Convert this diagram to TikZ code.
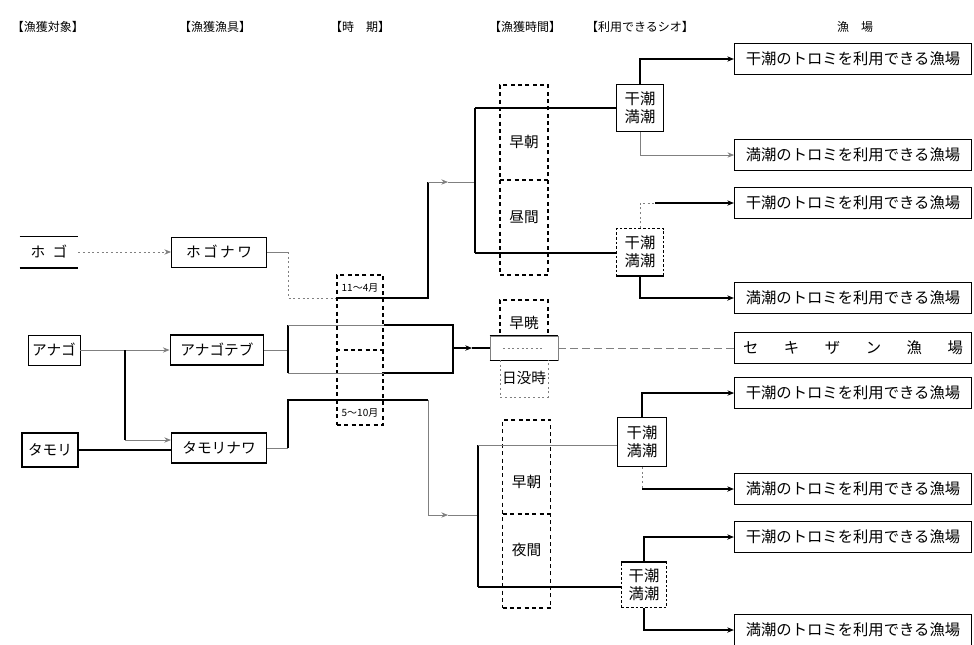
\documentclass[tikz,border=0pt]{standalone}
\usepackage{fontspec}
\newfontfamily\jp{Noto Sans CJK JP}
\usetikzlibrary{arrows.meta,calc}
\tikzset{
  base/.style={inner sep=0pt, font=\jp\fontsize{11}{13}\selectfont},
  lbox/.style={base, draw, line width=0.9pt},
  hdr/.style={base, font=\jp\fontsize{9}{11}\selectfont},
  small/.style={base, font=\jp\fontsize{7.5}{9}\selectfont},
  tide/.style={base, draw, line width=0.9pt, align=center, font=\jp\fontsize{11.5}{13.5}\selectfont},
  res/.style={base, draw, line width=0.9pt, minimum width=177.75pt, minimum height=23.25pt, font=\jp\fontsize{11.5}{13}\selectfont},
  strong/.style={line width=1.1pt},
  faint/.style={line width=0.6pt, gray},
  dots/.style={line width=0.6pt, gray, dash pattern=on 1.5pt off 2pt},
  dbox/.style={line width=1pt, dash pattern=on 3pt off 2.5pt},
  arr/.style={-{Stealth[length=5pt,width=4pt]}},
}
\begin{document}
\begin{tikzpicture}[x=0.75pt,y=-0.75pt]
\useasboundingbox (0,0) rectangle (974,644);
% headers
\node[hdr] (h1) at (48,27) {【漁獲対象】};
\node[hdr] (h2) at (215,27) {【漁獲漁具】};
\node[hdr] (h3) at (360,27) {【時\quad 期】};
\node[hdr] (h4) at (525,27) {【漁獲時間】};
\node[hdr] (h5) at (640,27) {【利用できるシオ】};
\node[hdr] (h6) at (855,27) {漁\quad 場};
% left column
\node[base, minimum width=43.5pt, minimum height=23.25pt] (hogo) at (49,252) {ホ\enspace ゴ};
\draw[line width=1pt] (hogo.north west) -- (hogo.north east);
\draw[line width=1.2pt] (hogo.south west) -- (hogo.south east);
\node[lbox, line width=0.6pt, minimum width=39pt, minimum height=22.5pt] (anago) at (54,350) {アナゴ};
\node[lbox, line width=1.2pt, minimum width=42pt, minimum height=25.5pt] (tamori) at (50,450) {タモリ};
% second column
\node[lbox, line width=0.7pt, minimum width=71.25pt, minimum height=22.5pt] (hogonawa) at (219,252) {ホ\,ゴ\,ナ\,ワ};
\node[lbox, line width=1.2pt, minimum width=70pt, minimum height=22.5pt] (anagoteb) at (217,350) {アナゴテブ};
\node[lbox, line width=0.8pt, minimum width=71.25pt, minimum height=22.5pt] (tamorinawa) at (219,448) {タモリナワ};
% season box
\node[base, draw, dbox, minimum width=34.5pt, minimum height=112.5pt] (season) at (360,350) {};
\draw[dbox] (season.west) -- (season.east);
\node[small] (s1) at (360,288) {11～4月};
\node[small] (s2) at (360,413) {5～10月};
% time-of-day columns
\node[base, draw, dbox, minimum width=36pt, minimum height=142.5pt] (tu) at (524,180) {};
\draw[dbox] (500,180) -- (548,180);
\node[base] (tu1) at (524,142) {早朝};
\node[base] (tu2) at (524,217) {昼間};
\node[base, draw, dbox, minimum width=36pt, minimum height=141pt] (tl) at (526.5,514) {};
\draw[dbox] (503,514) -- (550,514);
\node[base] (tl1) at (526.5,482) {早朝};
\node[base] (tl2) at (526.5,550) {夜間};
% middle
\node[base, draw, dbox, minimum width=36pt, minimum height=27pt] (tm1) at (524,318) {};
\node[base] (tm1t) at (524,323) {早暁};
\node[base, draw, faint, minimum width=51pt, minimum height=18pt] (mid) at (524,348) {};
\draw[strong] (mid.north west) -- (mid.north east);
\draw[strong] (mid.south west) -- (mid.south east);
\draw[dots] (503,348) -- (545,348);
\node[base] (tm2) at (524,378) {日没時};
\draw[dots] (500,360) -- (500,397) -- (548,397) -- (548,360);
% tide boxes
\node[tide, minimum width=35.25pt, minimum height=35.25pt] (t1) at (640,108) {干潮\\満潮};
\node[tide, line width=0.6pt, dash pattern=on 2pt off 1.5pt, minimum width=35.25pt, minimum height=35.25pt] (t2) at (640,252) {干潮\\満潮};
\draw[strong] (t2.south west) -- (t2.south east);
\node[tide, minimum width=36.75pt, minimum height=36.75pt] (t3) at (642,442) {干潮\\満潮};
\node[tide, line width=0.6pt, dash pattern=on 2pt off 1.5pt, minimum width=33.75pt, minimum height=33.75pt] (t4) at (644,585) {干潮\\満潮};
\draw[strong] (t4.north west) -- (t4.north east);
% result boxes
\node[res] (r1) at (853,59) {干潮のトロミを利用できる漁場};
\node[res, line width=0.6pt] (r2) at (853,155) {満潮のトロミを利用できる漁場};
\node[res] (r3) at (853,203) {干潮のトロミを利用できる漁場};
\node[res] (r4) at (853,298) {満潮のトロミを利用できる漁場};
\node[res] (rs) at (853,348) {\makebox[165pt]{セ\hfill キ\hfill ザ\hfill ン\hfill 漁\hfill 場}};
\node[res, line width=0.6pt] (r5) at (853,393) {干潮のトロミを利用できる漁場};
\node[res] (r6) at (853,489) {満潮のトロミを利用できる漁場};
\node[res] (r7) at (853,537) {干潮のトロミを利用できる漁場};
\node[res] (r8) at (853,630) {満潮のトロミを利用できる漁場};
% left connectors
\draw[dots, arr] (hogo.east) -- (hogonawa.west);
\coordinate (j1) at (125,350);
\coordinate (j2) at (125,440);
\draw[faint, arr] (anago.east) -- (anagoteb.west);
\draw[strong] (j1) -- (j2);
\draw[faint, arr] (j2) -- (j2 -| tamorinawa.west);
\draw[line width=0.8pt] (tamori.east) -- (tamori.east -| tamorinawa.west);
% hogonawa route
\coordinate (a1) at (288,252);
\coordinate (a2) at (288,298);
\coordinate (a3) at (428,298);
\coordinate (a4) at (428,182);
\coordinate (a5) at (448,182);
\coordinate (a6) at (475,182);
\coordinate (a7) at (475,108);
\coordinate (a8) at (475,253);
\draw[faint] (hogonawa.east) -- (a1);
\draw[dots] (a1) -- (a2) -- (season.west |- a2);
\draw[strong] (season.west |- a2) -- (a3) -- (a4);
\draw[faint, arr] (a4) -- (a5);
\draw[faint] (a5) -- (a6);
\draw[strong] (a7) -- (a8);
\draw[strong] (a7) -- (t1.west |- a7);
\draw[strong] (a8) -- (a8 -| t2.west);
% anagoteb route
\coordinate (b1) at (288,350);
\coordinate (b2) at (288,325);
\coordinate (b3) at (288,373);
\coordinate (b4) at (453,325);
\coordinate (b5) at (453,373);
\coordinate (b6) at (453,348);
\coordinate (b7) at (472,348);
\draw[faint] (anagoteb.east) -- (b1);
\draw[strong] (b2) -- (b3);
\draw[faint] (b2) -- (season.east |- b2);
\draw[strong] (season.east |- b2) -- (b4) -- (b5) -- (season.east |- b5);
\draw[faint] (season.east |- b5) -- (b3);
\draw[strong, arr] (b6) -- (b7);
\draw[strong] (b7) -- (mid.west);
\draw[faint, dash pattern=on 6pt off 3pt] (mid.east) -- (rs.west);
% tamorinawa route
\coordinate (c1) at (288,448);
\coordinate (c2) at (288,400);
\coordinate (c3) at (428,400);
\coordinate (c4) at (428,515);
\coordinate (c5) at (448,515);
\coordinate (c6) at (478,515);
\coordinate (c7) at (478,445);
\coordinate (c8) at (478,587);
\draw[faint] (tamorinawa.east) -- (c1);
\draw[strong] (c1) -- (c2) -- (c3);
\draw[faint] (c3) -- (c4);
\draw[faint, arr] (c4) -- (c5);
\draw[faint] (c5) -- (c6);
\draw[strong] (c7) -- (c8);
\draw[faint] (c7) -- (c7 -| t3.west);
\draw[strong] (c8) -- (c8 -| t4.west);
% tide outputs
\draw[strong, arr] (t1.north) |- (r1.west);
\draw[faint, arr] (t1.south) |- (r2.west);
\draw[dots] (t2.north) |- ($(t2.north |- r3.west)+(15,0)$);
\draw[strong, arr] ($(t2.north |- r3.west)+(15,0)$) -- (r3.west);
\draw[strong, arr] (t2.south) |- (r4.west);
\draw[strong, arr] (t3.north) |- (r5.west);
\draw[dots] (t3.south) -- (t3.south |- r6.west);
\draw[strong, arr] (t3.south |- r6.west) -- (r6.west);
\draw[strong, arr] (t4.north) |- (r7.west);
\draw[strong, arr] (t4.south) |- (r8.west);
\end{tikzpicture}
\end{document}
